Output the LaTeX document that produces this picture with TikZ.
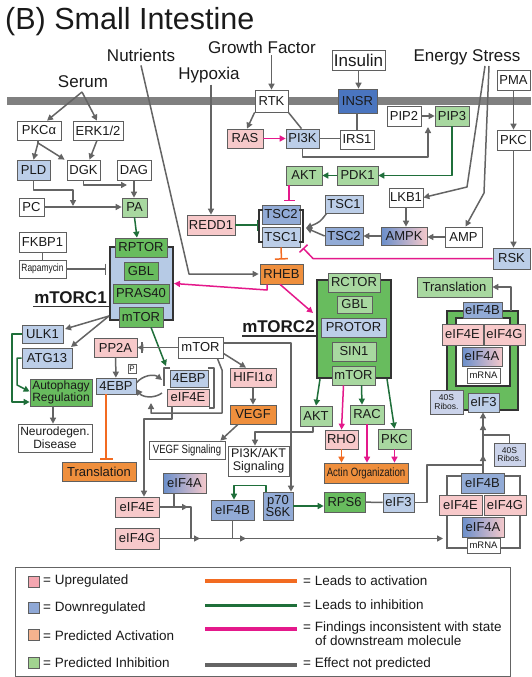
\documentclass[tikz,border=0pt]{standalone}
\usepackage{fontspec}
\setmainfont{Liberation Sans}
\usetikzlibrary{arrows.meta}

\definecolor{cUp}{HTML}{F7C9CA}
\definecolor{cDn}{HTML}{BCCEE8}
\definecolor{cDnM}{HTML}{92ABD6}
\definecolor{cDnD}{HTML}{4A75BF}
\definecolor{cOr}{HTML}{EF8F3D}
\definecolor{cLg}{HTML}{A8D8A0}
\definecolor{cMg}{HTML}{68BC5E}
\definecolor{cRib}{HTML}{CBD3EA}
\definecolor{cC1}{HTML}{B6CAE5}
\definecolor{cGradL}{HTML}{6A8FCB}
\definecolor{cGradR}{HTML}{F4C8CB}
\definecolor{cBorder}{HTML}{5F5F5F}
\definecolor{cFrame}{HTML}{333333}
\definecolor{cLine}{HTML}{646464}
\definecolor{cGreenL}{HTML}{1F6F3A}
\definecolor{cPink}{HTML}{E4198B}
\definecolor{cOrL}{HTML}{F26B21}
\definecolor{cMem}{HTML}{808080}
\definecolor{cText}{HTML}{1A1A1A}
\definecolor{cSwUp}{HTML}{F4A6B0}
\definecolor{cSwDn}{HTML}{8FA8D6}
\definecolor{cSwAct}{HTML}{F5B38E}
\definecolor{cSwInh}{HTML}{A2D490}

\newcommand\fsz[2]{\fontsize{#1}{#2}\selectfont}
% box from its corner coordinates: style, name, x1, y1, x2, y2, text
\newcommand\mkbox[7]{\node[box,#1,minimum width={(#5)-(#3)},minimum height={(#6)-(#4)}] (#2) at ({((#3)+(#5))/2},{((#4)+(#6))/2}) {#7};}

\begin{document}
\begin{tikzpicture}[x=1pt,y=-1pt,
  box/.style={draw=cBorder,line width=0.7pt,inner sep=0pt,align=center,text=cText,font=\fsz{13}{13}},
  fWh/.style={fill=white},
  fUp/.style={fill=cUp},
  fDn/.style={fill=cDn},
  fDnM/.style={fill=cDnM},
  fDnD/.style={fill=cDnD},
  fOr/.style={fill=cOr},
  fLg/.style={fill=cLg},
  fMg/.style={fill=cMg},
  fC1/.style={fill=cC1},
  fRib/.style={fill=cRib,font=\fsz{8.5}{8.5}},
  fGrad/.style={left color=cGradL,right color=cGradR},
  cframe/.style={draw=cFrame,line width=2pt},
  lbl/.style={anchor=base,inner sep=0pt,font=\fsz{17}{20},text=cText},
  cplx/.style={anchor=base,inner sep=0pt,font=\bfseries\fsz{17}{20},text=cText},
  ulin/.style={draw=cFrame,line width=1.6pt},
  conn/.style={line width=1.5pt,line join=round},
  ga/.style={conn,draw=cLine,-{Triangle[length=6pt,width=6pt]}},
  gl/.style={conn,draw=cLine},
  gT/.style={conn,draw=cLine,-{Bar[width=11pt]}},
  gnA/.style={conn,draw=cGreenL,-{Triangle[length=6pt,width=6pt]}},
  gnT/.style={conn,draw=cGreenL,-{Bar[width=11pt]}},
  pkA/.style={conn,draw=cPink,-{Triangle[length=6pt,width=6pt]}},
  pkT/.style={conn,draw=cPink,-{Bar[width=11pt]}},
  orA/.style={conn,draw=cOrL,-{Triangle[length=6pt,width=6pt]}},
  orT/.style={conn,draw=cOrL,-{Bar[width=13pt]}},
  brk/.style={draw=cFrame,line width=1.1pt},
  legline/.style={line width=3.5pt},
  legtxt/.style={anchor=west,inner sep=0pt,font=\fsz{13.5}{15},text=cText},
  swatch/.style={draw=cBorder,line width=0.6pt,minimum size=11pt,inner sep=0pt},
]
\useasboundingbox (0,0) rectangle (531,677);
\fill[white] (0,0) rectangle (531,677);

% plasma membrane
\fill[cMem] (7,97) rectangle (531,105);

% title and stimuli
\node[anchor=base west,inner sep=0pt,font=\fsz{30.5}{34},text=cText] (title) at (5,30) {(B) Small Intestine};
\node[lbl] (nutr) at (141,62) {Nutrients};
\node[lbl] (gf) at (262,53) {Growth Factor};
\node[lbl] (hyp) at (209,80) {Hypoxia};
\node[lbl] (serum) at (83,87) {Serum};
\node[lbl] (estress) at (467,62) {Energy Stress};

% receptors and upstream signalling
\mkbox{fWh,font=\fsz{17}{20}}{insulin}{332}{50}{385}{70}{Insulin}
\mkbox{fWh}{pma}{497}{70}{530}{90}{PMA}
\mkbox{fWh}{rtk}{255}{90}{288}{112}{RTK}
\mkbox{fDnD}{insr}{338}{89}{377}{113}{INSR}
\mkbox{fUp}{ras}{227}{129}{263}{148}{RAS}
\mkbox{fDn}{pik}{286}{129}{319}{148}{PI3K}
\mkbox{fWh}{irs}{340}{130}{374}{149}{IRS1}
\mkbox{fWh}{pipb}{387}{106}{421}{126}{PIP2}
\mkbox{fLg}{pipc}{435}{106}{469}{126}{PIP3}
\mkbox{fWh}{pkcr}{497}{130}{530}{150}{PKC}
\mkbox{fLg}{akta}{286}{166}{322}{185}{AKT}
\mkbox{fLg}{pdk}{337}{166}{378}{185}{PDK1}
\mkbox{fWh}{lkb}{389}{188}{423}{207}{LKB1}
\mkbox{fDn}{tscAr}{325}{195}{363}{213}{TSC1}
\mkbox{fDnM}{tscBr}{325}{227}{363}{245}{TSC2}
\mkbox{fGrad}{ampk}{381}{227}{427}{245}{AMPK}
\mkbox{fWh}{amp}{445}{227}{482}{247}{AMP}
\mkbox{fDn}{rsk}{493}{248}{530}{269}{RSK}
\mkbox{fDnM}{tscB}{262}{205}{300}{224}{TSC2}
\mkbox{fDn}{tscA}{262}{227}{300}{247}{TSC1}
\mkbox{fUp}{redd}{187}{215}{235}{235}{REDD1}
\mkbox{fOr}{rheb}{260}{264}{303}{284}{RHEB}

% lipid branch
\mkbox{fWh}{pkca}{17}{121}{61}{140}{PKCα}
\mkbox{fWh}{erk}{73}{121}{123}{140}{ERK1/2}
\mkbox{fDn}{pld}{17}{160}{50}{180}{PLD}
\mkbox{fWh}{dgk}{67}{160}{100}{180}{DGK}
\mkbox{fWh}{dag}{117}{160}{151}{180}{DAG}
\mkbox{fWh}{pc}{19}{198}{44}{216}{PC}
\mkbox{fLg}{pa}{122}{198}{147}{217}{PA}
\mkbox{fWh}{fkbp}{19}{232}{66}{252}{FKBP1}
\mkbox{fWh}{rapa}{19}{260}{66}{278}{\scalebox{0.8}[1]{\fsz{10.5}{11}Rapamycin}}

% mTORC1
\mkbox{fC1,cframe}{mtorcA}{110}{247}{173}{320}{}
\mkbox{fMg}{rptor}{115}{238}{167}{257}{RPTOR}
\mkbox{fMg}{gblA}{124}{262}{158}{280}{GBL}
\mkbox{fMg}{pras}{113}{284}{169}{303}{PRAS40}
\mkbox{fMg}{mtorA}{119}{307}{163}{327}{mTOR}
\node[cplx] (lblA) at (70.5,303) {mTORC1};
\draw[ulin] (33,306.5) -- (110,306.5);

% mTORC1 targets
\mkbox{fDn}{ulk}{22}{325}{63}{343}{ULK1}
\mkbox{fDn}{atg}{22}{348}{72}{368}{ATG13}
\mkbox{fMg,font=\fsz{12}{12.5}}{autoph}{30}{379}{92}{406}{Autophagy\\Regulation}
\mkbox{fWh,font=\fsz{12}{13}}{neuro}{18}{424}{92}{452}{Neurodegen.\\Disease}
\mkbox{fUp}{ppa}{94}{338}{137}{357}{PP2A}
\mkbox{fWh}{mtorF}{178}{337}{223}{358}{mTOR}
\mkbox{fDn}{ebpP}{96}{378}{136}{394}{4EBP}
\mkbox{fWh,font=\fsz{8}{8}}{ptag}{128}{364}{136}{373}{P}
\mkbox{fDn}{ebpC}{170}{370}{208}{387}{4EBP}
\mkbox{fUp}{efeC}{167}{389}{209}{406}{eIF4E}
\mkbox{fUp}{hif}{230}{368}{276}{387}{HIFI1α}
\mkbox{fOr}{vegf}{230}{405}{276}{424}{VEGF}
\mkbox{fOr}{transB}{62}{462}{136}{481}{Translation}
\mkbox{fWh}{vegfs}{149}{441}{225}{459}{\scalebox{0.8}[1]{\fsz{12}{12}VEGF Signaling}}
\mkbox{fWh,font=\fsz{12.5}{13.5}}{pisig}{228}{446}{289}{476}{PI3K/AKT\\Signaling}
\mkbox{fGrad}{efaM}{163}{473}{206}{493}{eIF4A}
\mkbox{fUp}{efeM}{115}{497}{159}{517}{eIF4E}
\mkbox{fUp}{efgM}{115}{528}{159}{549}{eIF4G}
\mkbox{fDnM}{efbM}{211}{500}{254}{520}{eIF4B}
\mkbox{fDnM,font=\fsz{13}{12.5}}{psk}{263}{492}{293}{520}{p70\\S6K}
\mkbox{fMg}{rps}{324}{492}{365}{512}{RPS6}
\mkbox{fDn}{efcL}{383}{493}{414}{512}{eIF3}

% mTORC2
\mkbox{fMg,cframe}{mtorcB}{317}{280}{391}{378}{}
\mkbox{fLg}{rctor}{328}{273}{380}{292}{RCTOR}
\mkbox{fLg}{gblB}{337}{296}{372}{313}{GBL}
\mkbox{fDn}{protor}{321}{318}{386}{337}{PROTOR}
\mkbox{fLg}{sin}{332}{342}{376}{361}{SIN1}
\mkbox{fLg}{mtorB}{332}{366}{375}{385}{mTOR}
\node[cplx] (lblB) at (278.5,332) {mTORC2};
\draw[ulin] (242,336) -- (317,336);

% mTORC2 targets
\mkbox{fLg}{aktb}{300}{406}{332}{426}{AKT}
\mkbox{fUp}{rho}{325}{430}{358}{449}{RHO}
\mkbox{fLg}{rac}{350}{405}{384}{424}{RAC}
\mkbox{fLg}{pkcb}{378}{429}{411}{449}{PKC}
\mkbox{fOr}{actin}{324}{463}{408}{483}{\scalebox{0.8}[1]{\fsz{12}{12}Actin Organization}}

% initiation complex (upper)
\mkbox{fLg}{transA}{417}{277}{492}{297}{Translation}
\mkbox{fMg,cframe}{cpxU}{447}{311}{518}{410}{}
\mkbox{fWh,cframe,line width=1.5pt}{cpxUi}{456}{318}{510}{386}{}
\mkbox{fDnM}{efbU}{463}{302}{502}{318}{eIF4B}
\mkbox{fUp}{efeU}{442}{324}{483}{345}{eIF4E}
\mkbox{fUp}{efgU}{484}{324}{525}{345}{eIF4G}
\mkbox{fGrad}{efaU}{462}{347}{502}{366}{eIF4A}
\mkbox{fWh,font=\fsz{9.5}{10}}{mrnaU}{467}{368}{500}{383}{mRNA}
\mkbox{fRib}{ribU}{430}{390}{463}{414}{40S\\Ribos.}
\mkbox{fDn}{efcU}{468}{393}{499}{412}{eIF3}

% initiation complex (lower)
\mkbox{draw=cLine,line width=1.2pt}{cpxL}{447}{476}{520}{548}{}
\mkbox{fDnM}{efbL}{461}{473}{504}{493}{eIF4B}
\mkbox{fUp}{efeL}{439}{495}{482}{515}{eIF4E}
\mkbox{fUp}{efgL}{484}{495}{526}{515}{eIF4G}
\mkbox{fGrad}{efaL}{462}{517}{504}{537}{eIF4A}
\mkbox{fWh,font=\fsz{9.5}{10}}{mrnaL}{467}{538}{500}{553}{mRNA}
\mkbox{fRib}{ribL}{494}{443}{525}{466}{40S\\Ribos.}

% ---- connectors ----
% serum and lipid branch
\coordinate (sj) at (82,92);
\draw[ga] (sj) -- ([xshift=8pt]pkca.north);
\draw[ga] (sj) -- ([xshift=-1pt]erk.north);
\coordinate (pkj) at (38,143);
\draw[gl] ([xshift=-1pt]pkca.south) -- (pkj);
\draw[ga] (pkj) -- (pld.north);
\draw[ga] (pkj) -- ([xshift=-2pt]dgk.north west);
\draw[ga] ([xshift=-1pt]erk.south) -- ([xshift=6pt]dgk.north);
\draw[ga] (dgk.south) |- (127,185);
\draw[ga] (dag.south) -- (dag.south |- pa.north);
\draw[ga] (pld.south) |- (73,190) -- (73,206);
\draw[ga] (pc.east) -- (pc.east -| pa.west);
\draw[gnA] (pa.south) -- ([xshift=-4pt]rptor.north);
\draw[gl] (fkbp) -- (rapa);
\draw[gT] (rapa.east) -- (106,269);

% stimuli
\draw[ga] ([yshift=-3pt]nutr.south) -- (189,274) -- ([xshift=-1pt]rheb.west);
\draw[ga] ([yshift=-1pt]hyp.south -| redd.north) -- (redd.north);
\draw[ga] ([yshift=-2pt]gf.south -| rtk.north) -- (rtk.north);
\draw[ga] (insulin.south) -- (insulin.south |- insr.north);

% growth factor / insulin cascade
\draw[ga] (rtk.south west) -- ([xshift=2pt]ras.north);
\draw[gl] (rtk.south east) -- ([xshift=-1pt]pik.north);
\draw[pkA] (ras) -- (pik);
\draw[gl] (insr.south -| irs.north) -- (irs.north);
\draw[gl] (pik.east) -- (pik.east -| irs.west);
\draw[ga] (pik.south) |- (428,157) -- (428,127);
\draw[ga] (pipb) -- (pipc);
\draw[gnA] (pipc.south) |- (pdk.east);
\draw[gnA] (pdk) -- (akta);
\draw[pkT] ([xshift=-15pt]akta.south) -- (289,201);
\draw[gnT] (redd.east) -- (258,225);
\draw[orT] (tscA.south) -- ([yshift=4pt]rheb.north);

% TSC complex brackets
\draw[brk] (263,210) -- (259,210) -- (259,242) -- (263,242);
\draw[brk] (299,210) -- (303,210) -- (303,242) -- (299,242);

% energy stress branch
\draw[ga] ([xshift=2pt]tscAr.south west) .. controls (320,222) .. (306,228);
\draw[ga] (tscBr.west) -- (306,228);
\draw[ga] (ampk) -- (tscBr);
\draw[ga] (amp.west) -- (amp.west -| ampk.east);
\draw[ga] (lkb.south) -- (lkb.south |- ampk.north);
\coordinate (esA) at (485,66);
\coordinate (esB) at (489,66);
\draw[ga] (esA) -- (467,187) -- (lkb.east);
\draw[ga] (esB) -- (484,193) -- ([xshift=2pt]amp.north);
\draw[ga] (pma.south) -- (pma.south |- pkcr.north);
\draw[ga] (pkcr.south) -- (pkcr.south |- rsk.north);
\draw[pkT] (rsk.west) -- (313,258.5) -- (303,248);

% RHEB to the complexes
\draw[pkA] ([xshift=-14.5pt]rheb.south) -- (267,290) -- (mtorcA.east);
\draw[pkA] ([xshift=-1.5pt]rheb.south) -- (313,313);

% mTORC1 outputs
\coordinate (cA) at (109,316);
\draw[ga] (cA) -- (65,329);
\draw[ga] (cA) -- (71,347);
\draw[gnA] (ulk.west) -- (12,334) |- ([yshift=-9.5pt]autoph.west);
\draw[gnA] (atg.west) -- (17,358) -- (17,385) -- ([yshift=1pt]autoph.west);
\draw[ga] ([xshift=-8pt]autoph.south) -- ([xshift=-2pt]neuro.north);
\draw[gnA] ([xshift=10pt]mtorA.south) -- (166,366);
\draw[ga] (mtorF.west) -- (ppa.east);
\draw[gl,line width=1.3pt] (142,342) -- (142,353);
\draw[ga] (ppa) -- (ebpP);
\draw[ga] ([yshift=3pt]ebpP.east) to[bend left=45] (162,380);
\draw[ga] (162,393) to[bend left=45] ([yshift=-3pt]ebpP.east);
\draw[gl,line width=1.1pt] (170,368) -- (164,368) -- (164,386);
\draw[gl,line width=1.1pt] (208,368) -- (214,368) -- (214,408) -- (209,408);
\draw[ga] ([xshift=-6pt]mtorF.south east) -- (222,370) -- (222,413) -- (151,413) -- (151,403);
\draw[ga] ([xshift=-16pt]efeC.south) -- (172,419) -- (144,419) -- ([xshift=7pt]efeM.north);
\draw[orT,shorten >=2pt] ([xshift=-10pt]ebpP.south) -- ([xshift=7pt]transB.north);
\draw[ga] ([yshift=5pt]mtorF.south east) -- ([xshift=-7pt]hif.north);
\draw[ga] (hif) -- (vegf);
\draw[ga] ([xshift=-15pt]vegf.south) -- ([xshift=-5pt]vegfs.north east);
\draw[ga] ([yshift=4.5pt]mtorF.east) -- (291,343) -- ([xshift=13pt]psk.north);

% mTORC2 outputs
\draw[gnA] ([xshift=4pt]mtorcB.south west) -- (aktb.north);
\draw[pkA] ([xshift=-10pt]mtorB.south) -- (rho.north);
\draw[gnA] ([xshift=8pt]mtorB.south) -- ([xshift=-5pt]rac.north);
\draw[gnA] ([xshift=-5pt]mtorcB.south east) -- (pkcb.north);
\draw[orA] (rho.south) -- (rho.south |- actin.north);
\draw[pkA] (rac.south) -- (rac.south |- actin.north);
\draw[pkA] (pkcb.south) -- (pkcb.south |- actin.north);
\draw[ga] ([xshift=-3pt]aktb.south) -- (313,432) -- (255,432) -- ([xshift=-3.5pt]pisig.north);

% S6K branch and translation initiation
\draw[gnA] (psk.east) -- (psk.east -| rps.west);
\draw[gnA] ([xshift=-12pt]psk.north) -- ++(0pt,6pt) -| ([xshift=1.5pt]efbM.north);
\draw[gl] (rps) -- (efcL);
\draw[gl] (efcL.east) -- (427,502.5) -- (427,465) -- (483,465);
\draw[ga] (483,473) -- (483,455);
\draw[ga] (483,458) -- (483,424);
\draw[ga] (483,427) -- (efcU.south -| 483,0);
\draw[gl] (ribL.north) |- (483,435);
\draw[ga] (511,311) |- (transA.east);
\draw[ga] (efeM.east) -- (188,507);
\draw[gl] (186,507) -- (191,507) -- (191,538.5);
\draw[gl] ([xshift=-10.5pt]efaM.south) -- (174,507);
\draw[ga] (efgM.east) -- (200,538.5);
\draw[ga] (198,538.5) -- (246,538.5);
\draw[ga] (244,538.5) -- (443,538.5);
\draw[gl] (efbM.south) -- (efbM.south |- efgM.east);

% ---- legend ----
\mkbox{draw=cLine,line width=1pt}{legend}{15}{567}{510}{676}{}
\node[swatch,fill=cSwUp] (swA) at (33.5,581.5) {};
\node[swatch,fill=cSwDn] (swB) at (33.5,607.5) {};
\node[swatch,fill=cSwAct] (swC) at (33.5,635) {};
\node[swatch,fill=cSwInh] (swD) at (33.5,662.5) {};
\node[legtxt] (ltA) at (43,581.5) {= Upregulated};
\node[legtxt] (ltB) at (43,608) {= Downregulated};
\node[legtxt] (ltC) at (43,635.5) {= Predicted Activation};
\node[legtxt] (ltD) at (43,663) {= Predicted Inhibition};
\draw[legline,cOrL] (205,581) -- (297,581);
\draw[legline,cGreenL] (205,605.5) -- (297,605.5);
\draw[legline,cPink] (205,629) -- (297,629);
\draw[legline,cLine] (205,665) -- (297,665);
\node[legtxt] (lrA) at (303,581) {= Leads to activation};
\node[legtxt] (lrB) at (303,605) {= Leads to inhibition};
\node[legtxt] (lrC) at (303,628.5) {= Findings inconsistent with state};
\node[legtxt] (lrC2) at (315,640.5) {of downstream molecule};
\node[legtxt] (lrD) at (303,664.5) {= Effect not predicted};
\end{tikzpicture}
\end{document}
